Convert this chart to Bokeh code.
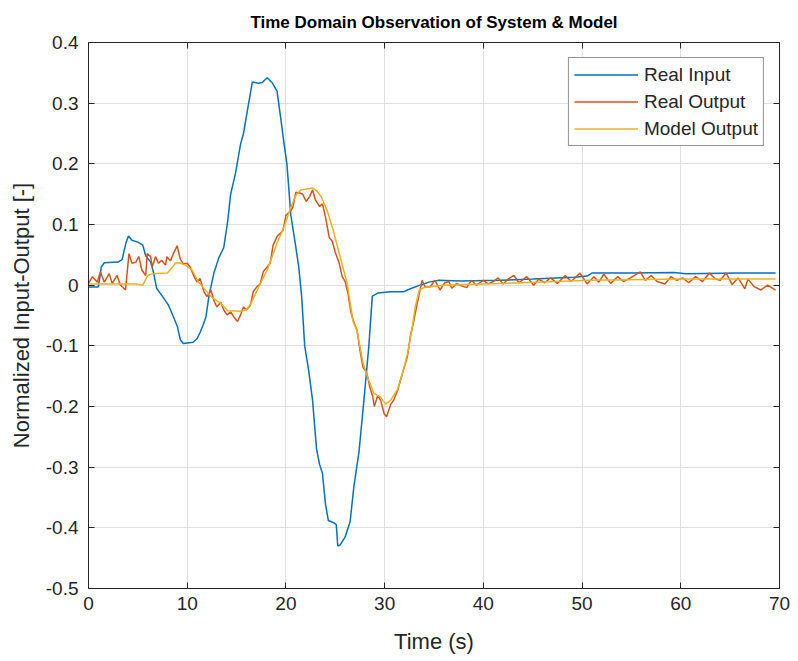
from bokeh.plotting import figure
from bokeh.models import Range1d, FixedTicker, LinearAxis, PrintfTickFormatter, Legend, LegendItem, Title
from bokeh.embed import file_html
from bokeh.resources import INLINE

# ---------------- data ----------------
input_t = [0, 1.0, 1.3, 1.6, 3.0, 3.4, 3.8, 4.05, 4.4, 5.0, 5.5, 5.8, 6.0, 6.3, 6.6, 6.9, 7.6, 8.1,
           8.6, 9.0, 9.3, 9.6, 10.6, 11.0, 11.3, 11.6, 11.9, 12.2, 12.7, 13.2, 13.7, 14.1, 14.4,
           14.9, 15.4, 15.7, 16.1, 16.6, 17.2, 17.6, 18.1, 18.6, 19.1, 19.5, 19.8, 20.1, 20.5,
           21.0, 21.3, 21.6, 21.9, 22.3, 22.7, 23.1, 23.4, 23.7, 24.0, 24.3, 24.9, 25.1, 25.25,
           25.5, 26.0, 26.5, 26.9, 27.4, 27.9, 28.4, 28.75, 29.3, 30.6, 31.9, 32.6, 33.6, 34.5,
           35.5, 37.7, 41.7, 45.0, 49.2, 50.5, 51.0, 55.0, 59.3, 60.5, 66.0, 69.6]
input_y = [-0.003, -0.003, 0.03, 0.037, 0.038, 0.042, 0.07, 0.081, 0.074, 0.071, 0.066, 0.048,
           0.044, 0.038, 0.02, -0.005, -0.021, -0.033, -0.052, -0.068, -0.09, -0.096, -0.094,
           -0.088, -0.078, -0.066, -0.052, -0.018, 0.02, 0.045, 0.062, 0.105, 0.15, 0.185,
           0.232, 0.25, 0.288, 0.335, 0.333, 0.334, 0.342, 0.334, 0.32, 0.272, 0.234, 0.2,
           0.115, 0.063, 0.03, -0.02, -0.1, -0.14, -0.19, -0.27, -0.295, -0.31, -0.36, -0.388,
           -0.392, -0.395, -0.43, -0.428, -0.415, -0.39, -0.33, -0.275, -0.19, -0.1, -0.018,
           -0.013, -0.011, -0.011, -0.006, 0.0, 0.005, 0.008, 0.007, 0.008, 0.01, 0.013, 0.015,
           0.02, 0.02, 0.021, 0.019, 0.02, 0.02]

model_t = [0, 4.8, 5.5, 6.0, 6.5, 8.0, 8.4, 8.8, 9.2, 9.8, 10.5, 11.1, 11.9, 12.5, 13.4, 14.1,
           15.4, 16.0, 16.4, 17.1, 18.1, 19.1, 19.8, 20.5, 21.0, 21.5, 22.7, 23.1, 23.6, 24.2,
           24.8, 25.5, 26.2, 26.8, 27.2, 27.8, 28.4, 28.9, 29.6, 30.1, 30.6, 31.3, 31.9, 32.4,
           32.8, 33.1, 33.5, 34.0, 36.0, 42.4, 50.9, 60.0, 69.6]
model_y = [0.002, 0.002, 0.0, 0.016, 0.019, 0.02, 0.028, 0.036, 0.037, 0.033, 0.025, 0.006,
           -0.009, -0.02, -0.03, -0.042, -0.043, -0.04, -0.032, -0.008, 0.025, 0.069, 0.096,
           0.128, 0.148, 0.157, 0.16, 0.156, 0.145, 0.122, 0.09, 0.046, 0.003, -0.06, -0.075,
           -0.128, -0.157, -0.178, -0.185, -0.196, -0.19, -0.172, -0.14, -0.107, -0.069, -0.036,
           -0.008, -0.004, 0.0, 0.003, 0.008, 0.01, 0.01]

output_t = [0, 0.4, 0.9, 1.2, 1.6, 2.1, 2.4, 2.9, 3.2, 3.75, 4.1, 4.4, 4.8, 5.1, 5.4, 5.8, 5.95,
            6.3, 6.45, 6.8, 7.1, 7.4, 7.8, 7.95, 8.3, 8.6, 8.98, 9.3, 9.6, 10.0, 10.3, 10.7, 11.0,
            11.3, 11.7, 12.0, 12.4, 12.7, 13.0, 13.4, 13.7, 14.05, 14.4, 14.7, 15.1, 15.4, 15.7,
            16.0, 16.4, 16.7, 17.1, 17.4, 17.7, 18.1, 18.4, 18.7, 19.1, 19.4, 19.7, 20.0, 20.4,
            20.7, 21.0, 21.4, 21.7, 22.05, 22.4, 22.7, 23.0, 23.4, 23.7, 24.0, 24.4, 24.7, 25.0,
            25.4, 25.7, 26.0, 26.3, 26.6, 26.9, 27.2, 27.5, 27.8, 28.2, 28.5, 28.8, 28.95, 29.3,
            29.6, 29.95, 30.2, 30.6, 30.9, 31.3, 31.9, 32.3, 32.6, 32.9, 33.3, 33.6, 33.8, 34.1,
            34.6, 35.1, 35.6, 36.1, 36.5, 36.8, 37.3, 37.6, 38.3, 38.8, 39.3, 40.0, 40.5, 41.0,
            41.5, 42.0, 42.5, 43.1, 43.6, 44.4, 45.1, 45.6, 46.2, 46.8, 47.5, 48.3, 48.9, 49.8,
            50.5, 51.2, 51.7, 52.2, 52.9, 53.6, 54.2, 54.9, 55.9, 56.4, 57.0, 57.6, 58.4, 59.0,
            59.6, 60.2, 60.8, 61.5, 62.2, 62.9, 63.5, 64.0, 64.6, 65.2, 65.8, 66.5, 66.8, 67.4,
            68.1, 68.8, 69.4, 69.6]
output_y = [0.003, 0.014, 0.005, 0.022, 0.005, 0.019, 0.003, 0.016, 0.001, -0.008, 0.052, 0.036,
            0.038, 0.047, 0.025, 0.016, 0.052, 0.047, 0.03, 0.047, 0.036, 0.041, 0.033, 0.047,
            0.04, 0.052, 0.065, 0.043, 0.035, 0.036, 0.03, 0.014, 0.005, 0.011, -0.011, -0.019,
            -0.008, -0.025, -0.036, -0.028, -0.041, -0.049, -0.044, -0.052, -0.06, -0.049,
            -0.036, -0.041, -0.033, -0.01, -0.002, 0.002, 0.022, 0.03, 0.036, 0.066, 0.08, 0.085,
            0.09, 0.115, 0.121, 0.128, 0.153, 0.152, 0.15, 0.138, 0.146, 0.157, 0.14, 0.13, 0.134,
            0.113, 0.078, 0.072, 0.054, 0.036, 0.014, 0.006, -0.015, -0.046, -0.062, -0.074,
            -0.107, -0.135, -0.145, -0.168, -0.184, -0.2, -0.182, -0.19, -0.212, -0.217, -0.197,
            -0.19, -0.174, -0.14, -0.118, -0.085, -0.063, -0.03, -0.006, 0.008, -0.003, -0.003,
            0.008, -0.008, 0.004, 0.006, -0.005, 0.003, 0.0, -0.004, 0.008, 0.0, 0.008, 0.002,
            0.006, 0.012, 0.002, 0.01, 0.016, 0.004, 0.014, 0.0, 0.01, 0.004, 0.012, 0.003, 0.016,
            0.006, 0.02, 0.002, 0.014, 0.005, 0.018, 0.003, 0.014, 0.006, 0.012, 0.022, 0.008,
            0.016, 0.006, 0.002, 0.014, 0.008, 0.012, 0.004, 0.014, 0.006, 0.02, 0.01, 0.008,
            0.02, 0.001, 0.012, -0.006, 0.01, -0.002, -0.008, 0.0, -0.006, -0.008]

x_ticks = [0, 10, 20, 30, 40, 50, 60, 70]
y_ticks = [-0.5, -0.4, -0.3, -0.2, -0.1, 0, 0.1, 0.2, 0.3, 0.4]

series_names = ["Real Input", "Real Output", "Model Output"]
series_colors = ["#0072BD", "#D95319", "#EDB120"]

FONT = "Liberation Sans"
TXT = "#262626"

p = figure(width=798, height=661, output_backend="svg", toolbar_location=None,
           x_range=Range1d(0, 70), y_range=Range1d(-0.5, 0.4),
           min_border_left=88, min_border_right=19, min_border_top=42, min_border_bottom=73)
p.background_fill_color = "white"
p.border_fill_color = "white"
p.outline_line_color = TXT
p.outline_line_width = 1

p.title = Title(text="Time Domain Observation of System & Model", align="center",
                text_font=FONT, text_font_size="17px", text_font_style="bold",
                text_color="black", standoff=18, vertical_align="top", text_line_height=1.0)

r_in = p.line(input_t, input_y, line_color=series_colors[0], line_width=1.5)
r_out = p.line(output_t, output_y, line_color=series_colors[1], line_width=1.5)
r_mod = p.line(model_t, model_y, line_color=series_colors[2], line_width=1.5)

for ax in (p.xaxis[0], p.yaxis[0]):
    ax.major_label_text_font = FONT
    ax.major_label_text_font_size = "19px"
    ax.major_label_text_color = TXT
    ax.axis_label_text_font = FONT
    ax.axis_label_text_font_size = "22px"
    ax.axis_label_text_font_style = "normal"
    ax.axis_label_text_color = TXT
    ax.axis_line_color = TXT
    ax.major_tick_line_color = TXT
    ax.major_tick_in = 6
    ax.major_tick_out = 0
    ax.minor_tick_line_color = None

p.xaxis[0].ticker = FixedTicker(ticks=x_ticks)
p.yaxis[0].ticker = FixedTicker(ticks=y_ticks)
p.yaxis[0].formatter = PrintfTickFormatter(format="%g")
p.xaxis[0].axis_label = "Time (s)"
p.yaxis[0].axis_label = "Normalized Input-Output [-]"
p.xaxis[0].major_label_standoff = 8
p.yaxis[0].major_label_standoff = 10
p.xaxis[0].axis_label_standoff = 16
p.yaxis[0].axis_label_standoff = 9

# tick marks on top and right (box style), no labels drawn
top = LinearAxis(ticker=FixedTicker(ticks=x_ticks), major_label_text_color=None,
                 major_label_text_font_size="1px", axis_label_standoff=0,
                 major_tick_in=6, major_tick_out=0, minor_tick_line_color=None,
                 axis_line_color=TXT, major_tick_line_color=TXT, major_label_standoff=0)
right = LinearAxis(ticker=FixedTicker(ticks=y_ticks), major_label_text_color=None,
                   major_label_text_font_size="1px", axis_label_standoff=0,
                   major_tick_in=6, major_tick_out=0, minor_tick_line_color=None,
                   axis_line_color=TXT, major_tick_line_color=TXT, major_label_standoff=0)
p.add_layout(top, "above")
p.add_layout(right, "right")

p.xgrid.ticker = FixedTicker(ticks=x_ticks)
p.ygrid.ticker = FixedTicker(ticks=y_ticks)
p.grid.grid_line_color = "#dfdfdf"
p.grid.grid_line_width = 1

legend = Legend(items=[LegendItem(label=series_names[0], renderers=[r_in]),
                       LegendItem(label=series_names[1], renderers=[r_out]),
                       LegendItem(label=series_names[2], renderers=[r_mod])],
                location="top_right", margin=15, padding=5, spacing=4,
                glyph_width=64, glyph_height=23, label_height=23, label_standoff=6,
                label_text_font=FONT, label_text_font_size="19px", label_text_color=TXT,
                border_line_color=TXT, border_line_width=1, background_fill_color="white",
                background_fill_alpha=1.0)
p.add_layout(legend, "center")

open("out.html", "w").write(file_html(p, INLINE))
